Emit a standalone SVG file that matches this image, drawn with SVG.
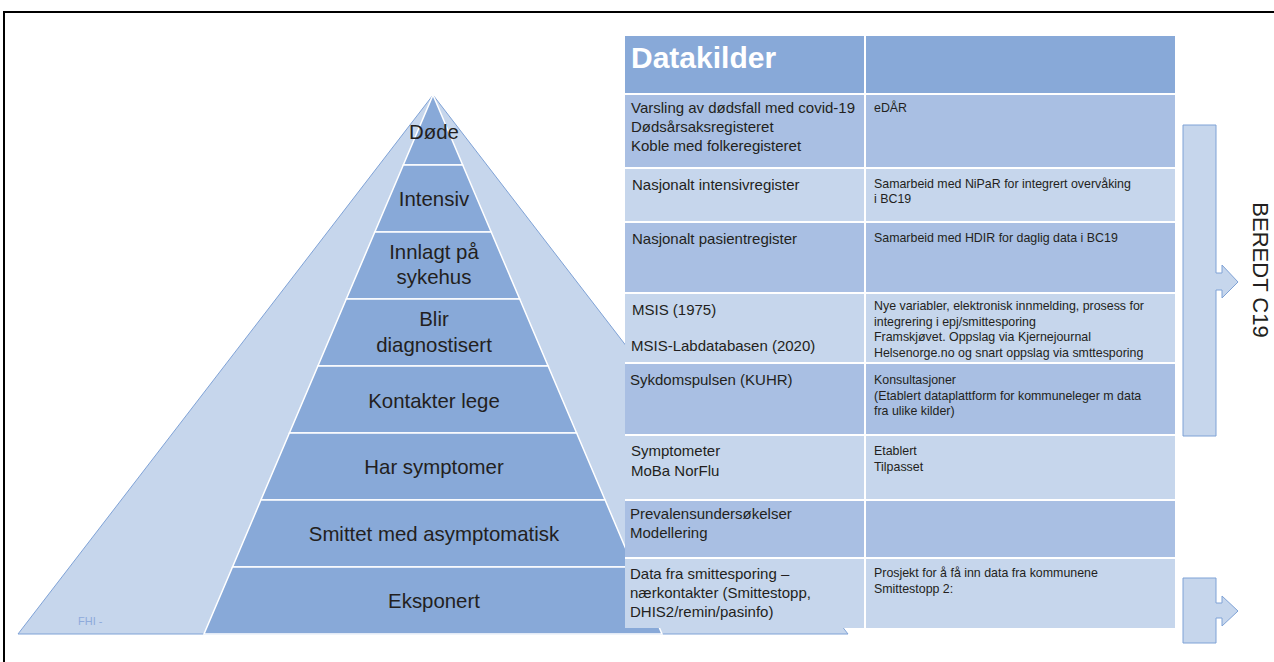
<svg xmlns="http://www.w3.org/2000/svg" width="1274" height="662" viewBox="0 0 1274 662">
<style>
.tier{fill:#88a9d8;stroke:#ffffff;stroke-width:1.5}
.face{fill:#c6d6ec;stroke:#7fa2d6;stroke-width:1}
.pt{font-family:"Liberation Sans",Arial,sans-serif;font-size:20.4px;fill:#231f20;text-anchor:middle}
.hd{fill:#88a9d8}
.m{fill:#a9bfe3}
.l{fill:#c6d6ec}
.tl{font-family:"Liberation Sans",Arial,sans-serif;font-size:15px;fill:#231f20}
.tr{font-family:"Liberation Sans",Arial,sans-serif;font-size:12.4px;fill:#231f20}
.arr{fill:#c6d6ec;stroke:#7fa2d6;stroke-width:1}
.grid{stroke:#ffffff;stroke-width:2}
</style>
<rect x="0" y="0" width="1274" height="662" fill="#ffffff"/>
<path d="M4,662 V12 H1274" fill="none" stroke="#000000" stroke-width="2"/>

<g id="pyramid">
  <polygon class="face" points="433,95 18,634 848,634"/>
  <text x="78" y="625" font-family="Liberation Sans,Arial,sans-serif" font-size="11" fill="#8eaadb">FHI -</text>
  <g id="tier-dode"><polygon class="tier" points="433,95 462.7,165 403.3,165"/><text class="pt" x="434" y="139">Døde</text></g>
  <g id="tier-intensiv"><polygon class="tier" points="403.3,165 462.7,165 491.2,232 374.8,232"/><text class="pt" x="434" y="206">Intensiv</text></g>
  <g id="tier-innlagt"><polygon class="tier" points="374.8,232 491.2,232 519.7,299 346.3,299"/><text class="pt" x="434" y="259">Innlagt på</text><text class="pt" x="434" y="284">sykehus</text></g>
  <g id="tier-blir"><polygon class="tier" points="346.3,299 519.7,299 548.1,366 317.9,366"/><text class="pt" x="434" y="326">Blir</text><text class="pt" x="434" y="352">diagnostisert</text></g>
  <g id="tier-kontakter"><polygon class="tier" points="317.9,366 548.1,366 576.6,433 289.4,433"/><text class="pt" x="434" y="408">Kontakter lege</text></g>
  <g id="tier-symptomer"><polygon class="tier" points="289.4,433 576.6,433 605.1,500 260.9,500"/><text class="pt" x="434" y="474">Har symptomer</text></g>
  <g id="tier-smittet"><polygon class="tier" points="260.9,500 605.1,500 633.5,567 232.5,567"/><text class="pt" x="434" y="541">Smittet med asymptomatisk</text></g>
  <g id="tier-eksponert"><polygon class="tier" points="232.5,567 633.5,567 662,634 204,634"/><text class="pt" x="434" y="608">Eksponert</text></g>
</g>

<g id="table">
  <g id="row-header"><rect class="hd" x="625" y="36" width="550" height="58"/><text x="631" y="68" font-family="Liberation Sans,Arial,sans-serif" font-size="30" font-weight="bold" fill="#ffffff">Datakilder</text></g>
  <g id="row-1"><rect class="m" x="625" y="94" width="550" height="74"/>
    <text class="tl" x="631" y="113">Varsling av dødsfall med covid-19</text>
    <text class="tl" x="631" y="132">Dødsårsaksregisteret</text>
    <text class="tl" x="631" y="151">Koble med folkeregisteret</text>
    <text class="tr" x="874" y="112">eDÅR</text></g>
  <g id="row-2"><rect class="l" x="625" y="168" width="550" height="54"/>
    <text class="tl" x="632" y="190">Nasjonalt intensivregister</text>
    <text class="tr" x="874" y="188">Samarbeid med NiPaR for integrert overvåking</text>
    <text class="tr" x="874" y="203">i BC19</text></g>
  <g id="row-3"><rect class="m" x="625" y="222" width="550" height="71"/>
    <text class="tl" x="632" y="244">Nasjonalt pasientregister</text>
    <text class="tr" x="874" y="242">Samarbeid med HDIR for daglig data i BC19</text></g>
  <g id="row-4"><rect class="l" x="625" y="293" width="550" height="70"/>
    <text class="tl" x="632" y="315">MSIS (1975)</text>
    <text class="tl" x="631" y="351">MSIS-Labdatabasen (2020)</text>
    <text class="tr" x="874" y="310">Nye variabler, elektronisk innmelding, prosess for</text>
    <text class="tr" x="874" y="326">integrering i epj/smittesporing</text>
    <text class="tr" x="874" y="341">Framskjøvet. Oppslag via Kjernejournal</text>
    <text class="tr" x="874" y="357">Helsenorge.no og snart oppslag via smttesporing</text></g>
  <g id="row-5"><rect class="m" x="625" y="363" width="550" height="72"/>
    <text class="tl" x="630" y="385">Sykdomspulsen (KUHR)</text>
    <text class="tr" x="874" y="384">Konsultasjoner</text>
    <text class="tr" x="874" y="400">(Etablert dataplattform for kommuneleger m data</text>
    <text class="tr" x="874" y="415">fra ulike kilder)</text></g>
  <g id="row-6"><rect class="l" x="625" y="435" width="550" height="65"/>
    <text class="tl" x="631" y="456">Symptometer</text>
    <text class="tl" x="631" y="476">MoBa NorFlu</text>
    <text class="tr" x="874" y="455">Etablert</text>
    <text class="tr" x="874" y="471">Tilpasset</text></g>
  <g id="row-7"><rect class="m" x="625" y="500" width="550" height="58"/>
    <text class="tl" x="630" y="519">Prevalensundersøkelser</text>
    <text class="tl" x="630" y="538">Modellering</text></g>
  <g id="row-8"><rect class="l" x="625" y="558" width="550" height="70"/>
    <text class="tl" x="630" y="579">Data fra smittesporing –</text>
    <text class="tl" x="630" y="598">nærkontakter (Smittestopp,</text>
    <text class="tl" x="630" y="617">DHIS2/remin/pasinfo)</text>
    <text class="tr" x="874" y="577">Prosjekt for å få inn data fra kommunene</text>
    <text class="tr" x="874" y="593">Smittestopp 2:</text></g>
  <g id="grid">
    <line class="grid" x1="865" y1="36" x2="865" y2="628"/>
    <line class="grid" x1="625" y1="94" x2="1175" y2="94"/>
    <line class="grid" x1="625" y1="168" x2="1175" y2="168"/>
    <line class="grid" x1="625" y1="222" x2="1175" y2="222"/>
    <line class="grid" x1="625" y1="293" x2="1175" y2="293"/>
    <line class="grid" x1="625" y1="363" x2="1175" y2="363"/>
    <line class="grid" x1="625" y1="435" x2="1175" y2="435"/>
    <line class="grid" x1="625" y1="500" x2="1175" y2="500"/>
    <line class="grid" x1="625" y1="558" x2="1175" y2="558"/>
  </g>
</g>

<g id="connectors">
  <polygon class="arr" points="1183,125 1216,125 1216,273 1222,273 1222,265 1238,282 1222,298 1222,290 1216,290 1216,436 1183,436"/>
  <polygon class="arr" points="1183,578 1216,578 1216,603 1222,603 1222,596 1238,611 1222,626 1222,618 1216,618 1216,643 1183,643"/>
</g>

<g id="label-beredt">
  <text transform="translate(1253,270) rotate(90)" font-family="Liberation Sans,Arial,sans-serif" font-size="22" fill="#231f20" text-anchor="middle">BEREDT C19</text>
</g>
</svg>
